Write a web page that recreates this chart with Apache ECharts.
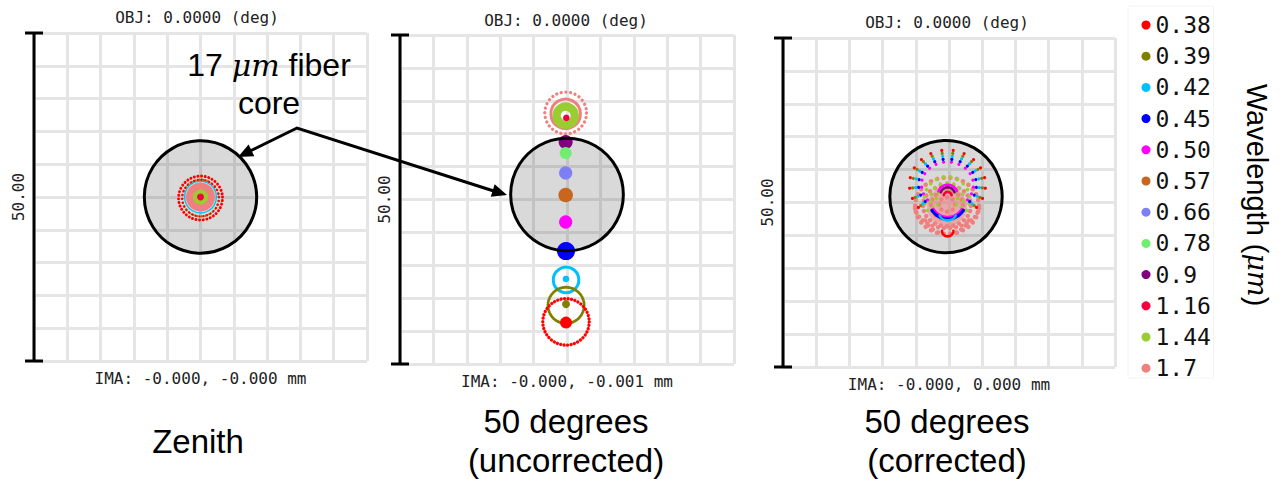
<!DOCTYPE html>
<html>
<head>
<meta charset="utf-8">
<script src="https://cdn.jsdelivr.net/npm/echarts@6/dist/echarts.min.js"></script>
<style>
  html, body { margin: 0; padding: 0; background: #fff; }
  #chart { width: 1283px; height: 479px; }
</style>
</head>
<body>
<div id="chart"></div>
<script>
// Wavelengths (µm) and their spot colours
const wavelengths = ['0.38', '0.39', '0.42', '0.45', '0.50', '0.57', '0.66', '0.78', '0.9', '1.16', '1.44', '1.7'];
const wavelengthColors = ['#ff0000', '#808000', '#00bfff', '#0000ff', '#ff00ff', '#c8651e',
                          '#7f7ff5', '#70ee70', '#800080', '#f5003c', '#9acd32', '#f08080'];

// Image plane: ±25 µm box, 5 µm grid
const fieldMin = -25;
const fieldMax = 25;
const gridStep = 5;
const scaleBarLabel = '50.00';
const fiberCoreRadius = 8.5;   // 17 µm core

const objLabels = ['OBJ: 0.0000 (deg)', 'OBJ: 0.0000 (deg)', 'OBJ: 0.0000 (deg)'];
const imaLabels = ['IMA: -0.000, -0.000 mm', 'IMA: -0.000, -0.001 mm', 'IMA: -0.000, 0.000 mm'];
const panelCaptions = ['Zenith', '50 degrees\n(uncorrected)', '50 degrees\n(corrected)'];
const fiberCoreCenters = [[0, 0], [0, 0.76], [-0.45, 0.9]];

// Filled spots: [wavelength, x, y, radius]  (µm)
const zenithDiscs = [
  ['1.7', 0, 0, 2.2], ['1.44', 0, 0, 1.14], ['1.16', 0, 0, 0.53]
];
// Ring spots: [wavelength, x, y, inner radius, outer radius]  (µm)
const zenithRings = [
  ['0.42', 0, 0, 2.3, 2.5], ['0.39', 0, 0, 2.6, 2.95], ['0.38', 0, 0, 2.6, 2.95], ['0.38', 0, 0, 3.1, 3.55]
];

const uncorrectedDiscs = [
  ['0.9', -0.2, 8.74, 1.06], ['0.78', -0.2, 7.07, 0.9], ['0.66', -0.2, 4.03, 1.0],
  ['0.57', -0.2, 0.68, 1.1], ['0.50', -0.2, -3.42, 1.0], ['0.45', -0.15, -7.83, 1.37],
  ['0.42', -0.15, -12.08, 0.5], ['0.39', -0.15, -15.9, 0.6], ['0.38', -0.15, -18.7, 0.9],
  ['1.16', -0.1, 12.4, 0.5]
];
const uncorrectedRings = [
  ['1.7', -0.2, 13.15, 2.9, 3.4], ['1.7', -0.2, 13.1, 2.0, 2.45], ['1.44', -0.2, 12.84, 0.75, 2.0],
  ['0.42', -0.15, -12.08, 1.7, 2.15], ['0.39', -0.15, -15.88, 2.5, 2.95], ['0.38', -0.15, -18.6, 3.25, 3.75]
];

// Corrected spot: dense 1.7 µm core plus fan arcs
const correctedDiscs = [
  ['1.7', -0.3, -0.6, 3.0]
];
const correctedRings = [];
// Fan arcs: [wavelength, cx, cy, rx, ry, start angle, end angle]  (µm, degrees)
const correctedArcs = [
  ['1.7', -0.3, -0.5, 4.8, 4.3, 0, 360], ['1.7', -0.3, -0.5, 3.6, 3.1, 0, 360],
  ['1.7', -0.3, -0.4, 2.4, 2.2, 0, 360], ['1.7', -0.3, -0.3, 1.2, 1.1, 0, 360],
  ['1.7', -0.3, -1.2, 3.6, 3.6, 205, 335], ['1.7', -0.3, -0.3, 4.9, 3.6, 190, 350],
  ['1.44', -0.3, 0.5, 3.4, 3.4, -30, 210], ['1.44', -0.3, 0.5, 2.5, 2.5, -30, 210],
  ['1.44', -0.3, 0.5, 1.6, 1.6, -30, 210],
  ['1.16', -0.2, 1.0, 0.6, 0.6, 10, 170],
  ['0.9', -0.2, 1.2, 1.1, 1.1, 20, 160],
  ['0.50', -0.23, 2.66, 3.92, 3.5, -40, 220], ['0.50', -0.2, 0.6, 2.6, 2.8, 215, 325],
  ['0.50', -0.2, 1.2, 1.5, 1.5, 20, 160],
  ['0.45', -0.23, 2.66, 4.37, 3.95, -40, 220], ['0.45', -0.2, 0.6, 2.9, 3.1, 215, 325],
  ['0.42', -0.23, 2.66, 4.82, 4.41, -40, 220], ['0.42', -0.2, -1.6, 1.3, 1.1, 200, 340],
  ['0.39', -0.23, 2.66, 5.27, 4.86, -40, 220],
  ['0.38', -0.23, 2.66, 5.72, 5.32, -40, 220], ['0.38', -0.2, -4.3, 0.85, 0.85, 180, 360]
];

// ---- drawing styles ----
const fontMono = "'DejaVu Sans Mono', monospace";
const fontSans = "'Liberation Sans', Arial, sans-serif";
const panelGrids = [
  { left: 34, top: 33, width: 333, height: 328 },
  { left: 400, top: 35, width: 334, height: 329 },
  { left: 783, top: 38, width: 332, height: 329 }
];
// dots per ring (0 = continuous stroke), per panel in ring order
const ringDotCounts = [
  [0, 28, 30, 38],
  [28, 0, 0, 0, 60, 42],
  []
];
// disc opacity per panel (spot clouds are drawn a little see-through)
const discOpacity = [1, 1, 0.55];
// arc look, in arc order: [dot radius px, dot count (0 = continuous stroke)]
const correctedArcLook = [
  [2.3, 30], [2.3, 24], [2.2, 16], [2.2, 8],
  [2.2, 10], [2.2, 16],
  [1.8, 14], [1.8, 11], [1.8, 8],
  [1.3, 0],
  [1.3, 0],
  [1.6, 16], [1.3, 0],
  [1.2, 0],
  [1.6, 16], [1.6, 0],
  [1.6, 16], [1.2, 0],
  [1.6, 16],
  [1.6, 16], [1.3, 0]
];

function avgSize(api, v) {
  const s = api.size([v, v]);
  return (s[0] + s[1]) / 2;
}

function makeDiscRender(opacity) {
  return function (params, api) {
    const c = api.coord([api.value(0), api.value(1)]);
    return {
      type: 'circle',
      shape: { cx: c[0], cy: c[1], r: avgSize(api, api.value(2)) },
      style: { fill: api.visual('color'), opacity: opacity }
    };
  };
}

function makeRingRender(dotsFor) {
  return function (params, api) {
    const c = api.coord([api.value(0), api.value(1)]);
    const rIn = avgSize(api, api.value(2));
    const rOut = avgSize(api, api.value(3));
    const r = (rIn + rOut) / 2;
    const w = Math.max(1, rOut - rIn);
    const n = dotsFor(params.dataIndex);
    const style = { fill: 'none', stroke: api.visual('color'), lineWidth: w };
    if (n > 0) {
      const period = 2 * Math.PI * r / n;
      style.lineDash = [0.01, period - 0.01];
      style.lineCap = 'round';
    }
    return { type: 'circle', shape: { cx: c[0], cy: c[1], r: r }, style: style };
  };
}

function makeArcRender(lookFor) {
  return function (params, api) {
    const c = api.coord([api.value(0), api.value(1)]);
    const s = api.size([api.value(2), api.value(3)]);
    const a0 = api.value(4) * Math.PI / 180;
    const a1 = api.value(5) * Math.PI / 180;
    const look = lookFor(params.dataIndex);
    const color = api.visual('color');
    const at = a => [c[0] + s[0] * Math.cos(a), c[1] - s[1] * Math.sin(a)];
    if (look[1] === 0) {
      const pts = [];
      for (let i = 0; i <= 40; i++) pts.push(at(a0 + (a1 - a0) * i / 40));
      return { type: 'polyline', shape: { points: pts },
        style: { stroke: color, lineWidth: look[0] * 2, fill: 'none', lineCap: 'round' } };
    }
    const closed = Math.abs(a1 - a0 - 2 * Math.PI) < 1e-6;
    const n = look[1];
    const children = [];
    for (let i = 0; i < n; i++) {
      const a = a0 + (a1 - a0) * i / (closed ? n : n - 1);
      const p = at(a);
      children.push({ type: 'circle', shape: { cx: p[0], cy: p[1], r: look[0] }, style: { fill: color } });
    }
    return { type: 'group', children: children };
  };
}

function circleCoreRender(layer) {
  return function (params, api) {
    const c = api.coord([api.value(0), api.value(1)]);
    const r = avgSize(api, api.value(2));
    if (layer === 'fill') {
      return { type: 'circle', shape: { cx: c[0], cy: c[1], r: r }, style: { fill: 'rgba(0,0,0,0.15)' } };
    }
    return { type: 'circle', shape: { cx: c[0], cy: c[1], r: r }, style: { fill: 'none', stroke: '#000', lineWidth: 3 } };
  };
}

function scaleBarRender(params, api) {
  const p0 = api.coord([api.value(0), api.value(1)]);
  const p1 = api.coord([api.value(0), api.value(2)]);
  const st = { stroke: '#000', lineWidth: 3 };
  return {
    type: 'group',
    children: [
      { type: 'line', shape: { x1: p0[0], y1: p0[1], x2: p1[0], y2: p1[1] }, style: st },
      { type: 'line', shape: { x1: p0[0] - 9, y1: p0[1], x2: p0[0] + 9, y2: p0[1] }, style: st },
      { type: 'line', shape: { x1: p1[0] - 9, y1: p1[1], x2: p1[0] + 9, y2: p1[1] }, style: st }
    ]
  };
}

const xAxes = [], yAxes = [], series = [];
panelGrids.forEach(function (g, p) {
  const splitStyle = { show: true, lineStyle: { color: '#e5e5e5', width: 3 } };
  xAxes.push({
    gridIndex: p, type: 'value', min: fieldMin, max: fieldMax, interval: gridStep,
    axisLine: { show: false }, axisTick: { show: false }, axisLabel: { show: false },
    splitLine: splitStyle,
    name: imaLabels[p], nameLocation: 'middle', nameGap: 9,
    nameTextStyle: { fontFamily: fontMono, fontSize: 16, color: '#222' }
  });
  yAxes.push({
    gridIndex: p, type: 'value', min: fieldMin, max: fieldMax, interval: gridStep,
    axisLine: { show: false }, axisTick: { show: false }, axisLabel: { show: false },
    splitLine: splitStyle,
    name: scaleBarLabel, nameLocation: 'middle', nameGap: 8, nameRotate: 90,
    nameTextStyle: { fontFamily: fontMono, fontSize: 16, color: '#222' }
  });
  const core = [fiberCoreCenters[p][0], fiberCoreCenters[p][1], fiberCoreRadius];
  series.push({ type: 'custom', xAxisIndex: p, yAxisIndex: p, z: 1, silent: true, clip: false,
    renderItem: circleCoreRender('fill'), data: [core] });
  series.push({ type: 'custom', xAxisIndex: p, yAxisIndex: p, z: 5, silent: true, clip: false,
    renderItem: circleCoreRender('stroke'), data: [core] });
  series.push({ type: 'custom', xAxisIndex: p, yAxisIndex: p, z: 5, silent: true, clip: false,
    renderItem: scaleBarRender, data: [[fieldMin, fieldMin, fieldMax]] });
});

const panelDiscs = [zenithDiscs, uncorrectedDiscs, correctedDiscs];
const panelRings = [zenithRings, uncorrectedRings, correctedRings];
const panelArcs = [[], [], correctedArcs];
const panelArcLooks = [[], [], correctedArcLook];

function indicesOf(rows, name) {
  const out = [];
  rows.forEach((d, i) => { if (d[0] === name) out.push(i); });
  return out;
}

// spots: longest wavelength first so short-wavelength marks sit on top
for (let p = 0; p < 3; p++) {
  for (let w = wavelengths.length - 1; w >= 0; w--) {
    const name = wavelengths[w];
    const color = wavelengthColors[w];
    const discs = panelDiscs[p].filter(d => d[0] === name).map(d => d.slice(1));
    const ringIdx = indicesOf(panelRings[p], name);
    const arcIdx = indicesOf(panelArcs[p], name);
    const common = { name: name, type: 'custom', xAxisIndex: p, yAxisIndex: p, z: 3,
      silent: true, clip: false, itemStyle: { color: color } };
    if (discs.length) series.push(Object.assign({}, common, { renderItem: makeDiscRender(discOpacity[p]), data: discs }));
    if (arcIdx.length) {
      const looks = arcIdx.map(i => panelArcLooks[p][i]);
      series.push(Object.assign({}, common, {
        renderItem: makeArcRender(k => looks[k]), data: arcIdx.map(i => panelArcs[p][i].slice(1)) }));
    }
    if (ringIdx.length) {
      const counts = ringIdx.map(i => ringDotCounts[p][i] || 0);
      series.push(Object.assign({}, common, {
        renderItem: makeRingRender(k => counts[k]), data: ringIdx.map(i => panelRings[p][i].slice(1)) }));
    }
  }
}

function arrowHead(tip, from, len, half) {
  const dx = tip[0] - from[0], dy = tip[1] - from[1];
  const d = Math.hypot(dx, dy);
  const ux = dx / d, uy = dy / d;
  const bx = tip[0] - ux * len, by = tip[1] - uy * len;
  return [tip, [bx - uy * half, by + ux * half], [bx + uy * half, by - ux * half]];
}

const calloutApex = [297, 128];
const calloutTips = [[238, 157], [507, 195]];

const graphic = [
  // annotation arrows
  { type: 'polyline', z: 50, shape: { points: [[244, 154], calloutApex, [500, 193]] },
    style: { stroke: '#000', lineWidth: 3, fill: 'none' } },
  { type: 'polygon', z: 50, shape: { points: arrowHead(calloutTips[0], calloutApex, 15, 6.5) }, style: { fill: '#000' } },
  { type: 'polygon', z: 50, shape: { points: arrowHead(calloutTips[1], calloutApex, 15, 6.5) }, style: { fill: '#000' } },
  { type: 'text', z: 50, x: 269, y: 84, style: {
      text: '17 {m|μm} fiber\ncore', align: 'center', verticalAlign: 'middle',
      font: '32px ' + fontSans, fill: '#000', lineHeight: 38,
      rich: { m: { fontFamily: "'DejaVu Serif', serif", fontStyle: 'italic', fontSize: 30, fill: '#000' } } } },
  // legend title
  { type: 'text', z: 50, x: 1257, y: 195, rotation: -Math.PI / 2, style: {
      text: 'Wavelength ({m|μm})', align: 'center', verticalAlign: 'middle',
      font: '29px ' + fontSans, fill: '#000',
      rich: { m: { fontFamily: "'DejaVu Serif', serif", fontStyle: 'italic', fontSize: 27, fill: '#000' } } } },
  // legend clip edge
  { type: 'rect', z: 60, shape: { x: 1213.5, y: 0, width: 24, height: 400 }, style: { fill: '#fff' } },
  { type: 'rect', z: 61, shape: { x: 1128, y: 6, width: 85.5, height: 372 }, style: { fill: 'none', stroke: '#f4f4f4', lineWidth: 1 } }
];

// panel headers and captions
const headerPos = [[197, 17], [566, 20], [947, 22]];
headerPos.forEach(function (pos, p) {
  graphic.push({ type: 'text', z: 50, x: pos[0], y: pos[1], style: {
    text: objLabels[p], align: 'center', verticalAlign: 'middle', font: '16px ' + fontMono, fill: '#222' } });
});
const captionPos = [[198, 441], [566, 441], [947, 441]];
captionPos.forEach(function (pos, p) {
  graphic.push({ type: 'text', z: 50, x: pos[0], y: pos[1], style: {
    text: panelCaptions[p], align: 'center', verticalAlign: 'middle', font: '33px ' + fontSans,
    fill: '#000', lineHeight: 39 } });
});

const chart = echarts.init(document.getElementById('chart'), null, { renderer: 'svg' });
chart.setOption({
  animation: false,
  backgroundColor: '#fff',
  grid: panelGrids,
  xAxis: xAxes,
  yAxis: yAxes,
  legend: {
    data: wavelengths,
    orient: 'vertical', left: 1136.5, top: 8,
    icon: 'circle', itemWidth: 9, itemHeight: 9, itemGap: 7.2,
    selectedMode: false,
    textStyle: { fontFamily: fontMono, fontSize: 23, color: '#111', lineHeight: 24 }
  },
  series: series,
  graphic: graphic
});
</script>
</body>
</html>
